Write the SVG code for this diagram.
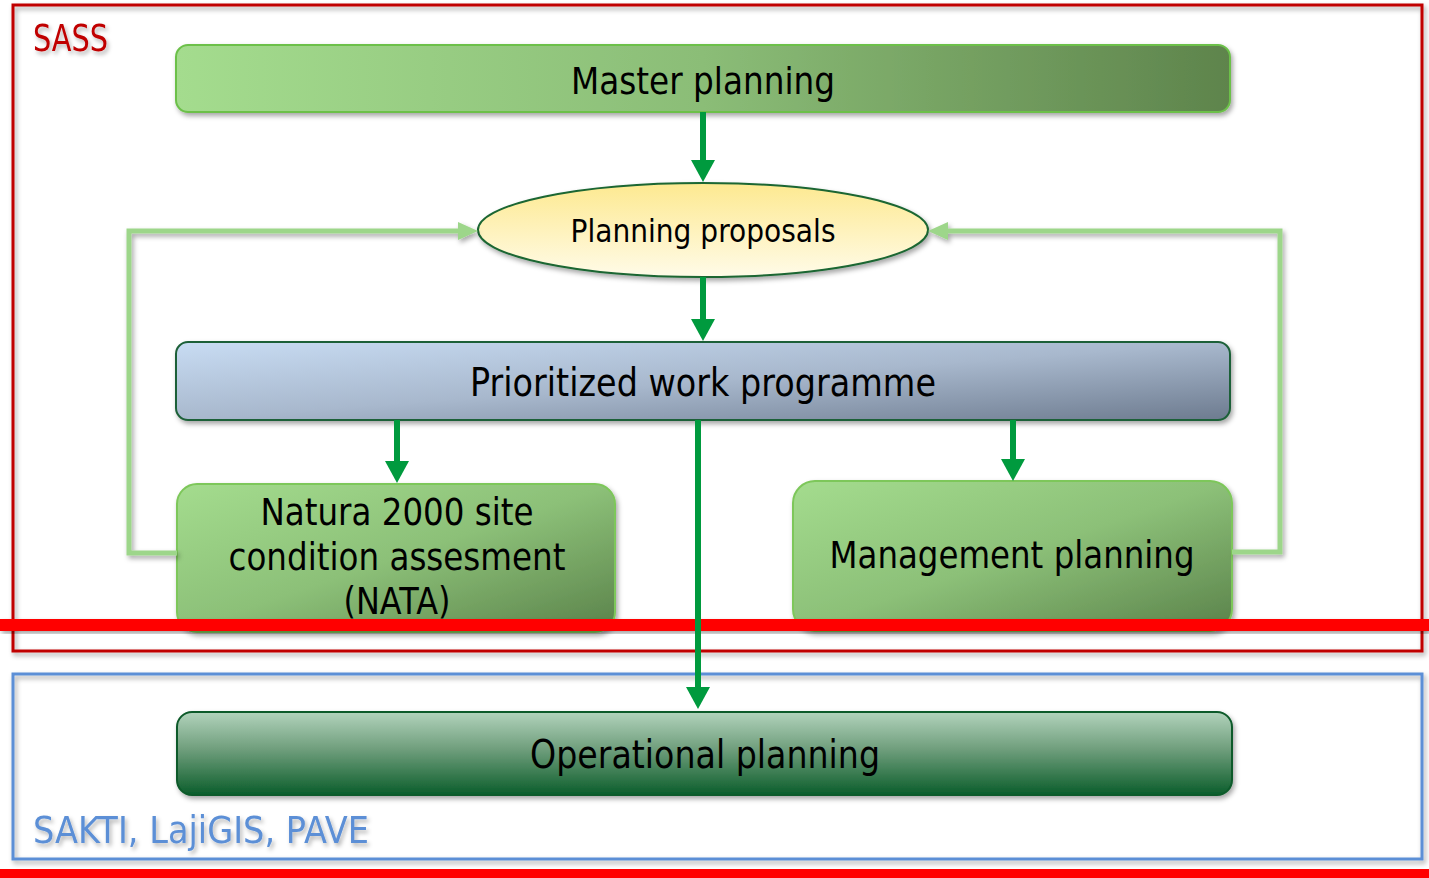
<svg xmlns="http://www.w3.org/2000/svg" width="1429" height="878" viewBox="0 0 1429 878">
<defs>
<style>
.lbl{font-family:"DejaVu Sans","Liberation Sans",sans-serif;fill:#000;text-anchor:middle}
.frameR{fill:none;stroke:#c00000;stroke-width:3}
.frameB{fill:none;stroke:#5b8fd6;stroke-width:3}
.main{fill:none;stroke:#009a3e;stroke-width:6}
.fb{fill:none;stroke:#9dd68a;stroke-width:5}
</style>
<filter id="sh" x="-10%" y="-10%" width="120%" height="130%">
<feDropShadow dx="2" dy="3" stdDeviation="2.5" flood-color="#000" flood-opacity="0.35"/>
</filter>
<filter id="tsh" x="-10%" y="-20%" width="130%" height="150%">
<feDropShadow dx="2" dy="3" stdDeviation="2" flood-color="#000" flood-opacity="0.3"/>
</filter>
<linearGradient id="gMaster" x1="0" y1="0" x2="1" y2="0">
<stop offset="0" stop-color="#a4dc8e"/><stop offset="0.5" stop-color="#8bbd77"/><stop offset="1" stop-color="#5e844c"/>
</linearGradient>
<linearGradient id="gBox" x1="0" y1="0" x2="1" y2="1">
<stop offset="0" stop-color="#a4dc8e"/><stop offset="0.5" stop-color="#8cc078"/><stop offset="1" stop-color="#5a824a"/>
</linearGradient>
<linearGradient id="gPrio" x1="0" y1="0" x2="1" y2="1">
<stop offset="0" stop-color="#c8dcf3"/><stop offset="0.5" stop-color="#a8b8cd"/><stop offset="1" stop-color="#6d7b8f"/>
</linearGradient>
<linearGradient id="gEll" x1="0" y1="0" x2="0" y2="1">
<stop offset="0" stop-color="#fde990"/><stop offset="1" stop-color="#fffbe8"/>
</linearGradient>
<linearGradient id="gOp" x1="0" y1="0" x2="0" y2="1">
<stop offset="0" stop-color="#b2d3bc"/><stop offset="0.45" stop-color="#6f9e7c"/><stop offset="1" stop-color="#0b5d2b"/>
</linearGradient>
<marker id="mMain" markerUnits="userSpaceOnUse" markerWidth="24" markerHeight="24" refX="10" refY="12" orient="auto">
<path d="M0,0 L22,12 L0,24 z" fill="#009a3e"/>
</marker>
<marker id="mFb" markerUnits="userSpaceOnUse" markerWidth="22" markerHeight="20" refX="8" refY="9" orient="auto">
<path d="M0,0 L20,9 L0,18 z" fill="#9dd68a"/>
</marker>
</defs>
<rect width="1429" height="878" fill="#fff"/>
<g id="frames">
<rect class="frameR" x="13" y="5" width="1409" height="646" filter="url(#sh)"/>
<text x="33" y="51" font-family="DejaVu Sans, Liberation Sans, sans-serif" font-size="37" fill="#c00000" textLength="75" lengthAdjust="spacingAndGlyphs" filter="url(#tsh)">SASS</text>
<rect class="frameB" x="13" y="674" width="1409" height="185" filter="url(#sh)"/>
<text x="33" y="843" font-family="DejaVu Sans, Liberation Sans, sans-serif" font-size="37" fill="#5b8fd6" textLength="336" lengthAdjust="spacingAndGlyphs" filter="url(#tsh)">SAKTI, LajiGIS, PAVE</text>
</g>
<g id="master-planning">
<rect x="176" y="45" width="1054" height="67" rx="12" fill="url(#gMaster)" stroke="#6cc04a" stroke-width="2" filter="url(#sh)"/>
<text class="lbl" x="703" y="94" font-size="38" textLength="264" lengthAdjust="spacingAndGlyphs">Master planning</text>
</g>
<g id="planning-proposals">
<ellipse cx="703" cy="230" rx="225" ry="47" fill="url(#gEll)" stroke="#1a6632" stroke-width="2" filter="url(#sh)"/>
<text class="lbl" x="703" y="242" font-size="32" textLength="265" lengthAdjust="spacingAndGlyphs">Planning proposals</text>
</g>
<g id="prioritized-work-programme">
<rect x="176" y="342" width="1054" height="78" rx="12" fill="url(#gPrio)" stroke="#1d6038" stroke-width="2" filter="url(#sh)"/>
<text class="lbl" x="703" y="396" font-size="39" textLength="466" lengthAdjust="spacingAndGlyphs">Prioritized work programme</text>
</g>
<g id="natura-2000">
<rect x="177" y="484" width="438" height="148" rx="20" fill="url(#gBox)" stroke="#7dc75a" stroke-width="2" filter="url(#sh)"/>
<text class="lbl" x="397" y="525" font-size="37" textLength="273" lengthAdjust="spacingAndGlyphs">Natura 2000 site</text>
<text class="lbl" x="397" y="570" font-size="37" textLength="337" lengthAdjust="spacingAndGlyphs">condition assesment</text>
<text class="lbl" x="397" y="614" font-size="37" textLength="107" lengthAdjust="spacingAndGlyphs">(NATA)</text>
</g>
<g id="management-planning">
<rect x="793" y="481" width="439" height="150" rx="22" fill="url(#gBox)" stroke="#7dc75a" stroke-width="2" filter="url(#sh)"/>
<text class="lbl" x="1012" y="568" font-size="37" textLength="365" lengthAdjust="spacingAndGlyphs">Management planning</text>
</g>
<g id="operational-planning">
<rect x="177" y="712" width="1055" height="83" rx="15" fill="url(#gOp)" stroke="#0c5a2a" stroke-width="2" filter="url(#sh)"/>
<text class="lbl" x="705" y="768" font-size="39" textLength="350" lengthAdjust="spacingAndGlyphs">Operational planning</text>
</g>
<g id="separator">
<rect x="0" y="619" width="1429" height="12" fill="#ff0000" filter="url(#sh)"/>
<rect x="0" y="869" width="1429" height="9" fill="#ff0000"/>
</g>
<g id="connectors">
<polyline class="fb" points="177,553 129,553 129,231 466,231" marker-end="url(#mFb)" filter="url(#sh)"/>
<polyline class="fb" points="1232,552 1280,552 1280,231 940,231" marker-end="url(#mFb)" filter="url(#sh)"/>
<line class="main" x1="703" y1="112" x2="703" y2="170" marker-end="url(#mMain)"/>
<line class="main" x1="703" y1="277" x2="703" y2="329" marker-end="url(#mMain)"/>
<line class="main" x1="397" y1="420" x2="397" y2="471" marker-end="url(#mMain)"/>
<line class="main" x1="1013" y1="420" x2="1013" y2="469" marker-end="url(#mMain)"/>
<line class="main" x1="698" y1="420" x2="698" y2="697" marker-end="url(#mMain)"/>
</g>
</svg>
